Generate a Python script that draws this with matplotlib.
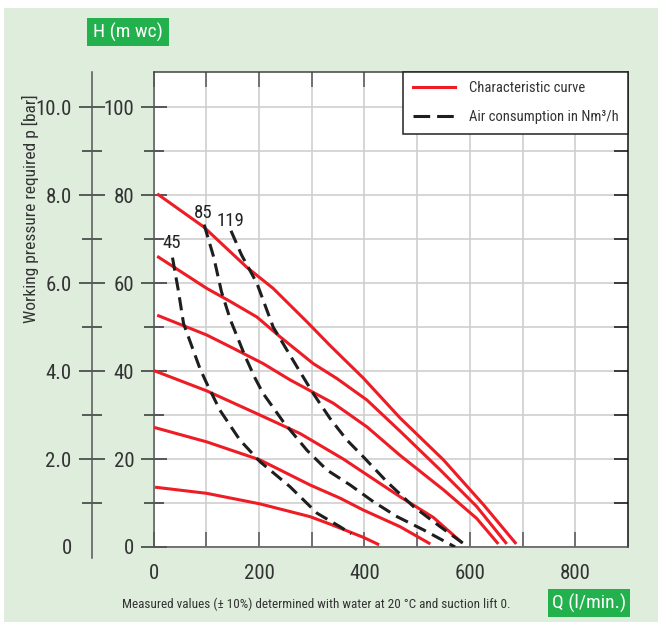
import numpy as np
import matplotlib
matplotlib.use("Agg")
import matplotlib.pyplot as plt
from matplotlib import font_manager
from matplotlib.patches import Rectangle
from matplotlib.lines import Line2D

# pick a narrow sans font if one is installed
font_name, scale = 'Liberation Sans', 0.88
for name in ['Liberation Sans Narrow', 'Roboto Condensed', 'DejaVu Sans Condensed']:
    try:
        font_manager.findfont(name, fallback_to_default=False)
        font_name, scale = name, 1.0
        break
    except Exception:
        pass
plt.rcParams['font.family'] = [font_name, 'DejaVu Sans']
plt.rcParams['lines.scale_dashes'] = False

# characteristic curves (Q in l/min, H in m wc)
curve1_q = [7, 95, 177, 227, 291, 335, 398, 468, 550, 626, 688]
curve1_h = [80.3, 72.8, 63.6, 58.8, 51.2, 45.8, 38.4, 29.3, 19.8, 9.6, 0.7]
curve2_q = [7, 101, 146, 196, 240, 303, 348, 405, 468, 544, 613, 670]
curve2_h = [66.1, 58.8, 55.8, 52.3, 47.8, 41.7, 38.3, 33.4, 26.3, 17.5, 9.2, 0.7]
curve3_q = [7, 101, 146, 208, 259, 341, 405, 468, 550, 613, 654]
curve3_h = [52.7, 48.2, 45.5, 41.7, 38.0, 32.7, 27.3, 20.8, 13.0, 6.5, 0.7]
curve4_q = [1, 101, 202, 278, 360, 468, 531, 585]
curve4_h = [40.1, 35.5, 30.0, 25.8, 20.0, 11.4, 6.7, 1.0]
curve5_q = [1, 101, 202, 297, 354, 398, 468, 525]
curve5_h = [27.2, 23.9, 19.8, 14.1, 11.1, 8.4, 4.6, 0.7]
curve6_q = [3, 101, 202, 297, 335, 398, 428]
curve6_h = [13.6, 12.2, 9.8, 6.9, 5.2, 2.2, 0.5]

# air consumption curves (Nm3/h)
air45_q = [36, 47, 57, 88, 101, 126, 164, 202, 259, 310, 354, 375]
air45_h = [65.8, 58.4, 50.8, 40.6, 37.2, 31.1, 24.3, 19.4, 13.7, 7.7, 4.6, 3.0]
air85_q = [96, 114, 129, 146, 174, 193, 208, 246, 291, 329, 373, 417, 462, 512, 572]
air85_h = [73.3, 66.0, 58.0, 51.6, 43.3, 38.3, 34.9, 28.5, 22.0, 17.5, 14.1, 10.3, 6.9, 3.9, 0.0]
air119_q = [147, 167, 196, 227, 272, 303, 335, 367, 398, 443, 493, 544, 597]
air119_h = [71.9, 66.4, 60.0, 50.0, 41.0, 34.9, 29.2, 24.3, 20.5, 14.8, 9.2, 4.6, 0.0]

air_labels = ["45", "85", "119"]
air_label_q = [34.5, 94.5, 146.5]
air_label_h = [69.2, 76.0, 74.2]

q_ticks = [0, 200, 400, 600, 800]
h_ticks = [0, 20, 40, 60, 80, 100]
bar_ticks = [0, 2, 4, 6, 8, 10]
bar_labels = ["0", "2.0", "4.0", "6.0", "8.0", "10.0"]

RED = '#ee1c25'
GREEN = '#22b14c'
TXT = '#333333'
W, H = 659, 624
fs_tick = 15 * scale

fig = plt.figure(figsize=(W / 100, H / 100), dpi=100)
fig.patch.set_facecolor('white')
fig.add_artist(Rectangle((4 / W, 2 / H), 654 / W, 614 / H, transform=fig.transFigure,
                         facecolor='#deeddc', edgecolor='none', zorder=-10))

ax = fig.add_axes([153.5 / W, 1 - 547 / H, (628 - 153.5) / W, (547 - 72) / H])
ax.set_facecolor('white')
ax.set_xlim(0, 900)
ax.set_ylim(0, 108)

reds = [(curve1_q, curve1_h), (curve2_q, curve2_h), (curve3_q, curve3_h),
        (curve4_q, curve4_h), (curve5_q, curve5_h), (curve6_q, curve6_h)]
for q, h in reds:
    ax.plot(q, h, color=RED, lw=2.2, solid_capstyle='butt', solid_joinstyle='round', zorder=3)

for q, h in [(air45_q, air45_h), (air85_q, air85_h), (air119_q, air119_h)]:
    ax.plot(q, h, color='#1e1e1e', lw=2.2, linestyle=(0, (9.5, 5)), zorder=4)

for lab, q, h in zip(air_labels, air_label_q, air_label_h):
    ax.text(q, h, lab, fontsize=13.5 * scale, color='#222222', ha='center', va='center', zorder=5)

# ticks and grid
ax.set_xticks(q_ticks)
ax.set_xticks([100, 300, 500, 700], minor=True)
ax.set_yticks(h_ticks)
ax.set_yticks([10, 30, 50, 70, 90], minor=True)
ax.grid(True, which='both', color='#cfcfcf', lw=1.2, zorder=0)
ax.set_axisbelow(True)
ax.tick_params(axis='x', which='both', direction='in', length=10.5, width=1.1,
               color='#555555', top=True, labelsize=fs_tick, labelcolor=TXT, pad=12)
ax.tick_params(axis='y', which='major', direction='inout', length=19, width=1.1,
               color='#333333', right=False, labelsize=fs_tick, labelcolor=TXT, pad=4.3)
ax.tick_params(axis='y', which='minor', direction='inout', length=14, width=1.1,
               color='#333333', right=False)
for s in ['left', 'bottom']:
    ax.spines[s].set_color('#555555')
    ax.spines[s].set_linewidth(1.1)
ax.spines['top'].set_color('#444444')
ax.spines['top'].set_linewidth(1.1)
ax.spines['right'].set_color('#111111')
ax.spines['right'].set_linewidth(1.1)

# right side inner ticks
axr = ax.twinx()
axr.set_ylim(0, 108)
axr.set_yticks(np.arange(10, 101, 10))
axr.tick_params(axis='y', direction='in', length=10, width=1.1, color='#111111',
                labelright=False)
for s in axr.spines.values():
    s.set_visible(False)

# pressure axis (bar) on the far left
axb = ax.twinx()
axb.set_ylim(0, 10.8)
for s in ['top', 'right', 'bottom']:
    axb.spines[s].set_visible(False)
axb.spines['left'].set_visible(True)
axb.spines['left'].set_position(('outward', 44.5))
axb.spines['left'].set_bounds(-0.25, 10.8)
axb.spines['left'].set_color('#555555')
axb.spines['left'].set_linewidth(1.1)
axb.yaxis.set_ticks_position('left')
axb.yaxis.set_label_position('left')
axb.set_yticks(bar_ticks)
axb.set_yticklabels(bar_labels)
axb.set_yticks([1, 3, 5, 7, 9], minor=True)
axb.tick_params(axis='y', which='major', direction='inout', length=19.4, width=1.1,
                color='#333333', labelsize=fs_tick, labelcolor=TXT, pad=4.7)
axb.tick_params(axis='y', which='minor', direction='inout', length=14, width=1.1,
                color='#333333')
axb.yaxis.get_major_ticks()[0].tick1line.set_visible(False)

# legend
handles = [Line2D([], [], color=RED, lw=2.2),
           Line2D([], [], color='#1e1e1e', lw=2.2, linestyle=(0, (12, 5)))]
leg = axr.legend(handles, ['Characteristic curve', 'Air consumption in Nm³/h'],
                 loc='upper right', borderaxespad=0, fancybox=False, framealpha=1,
                 edgecolor='#222222', fontsize=10.5 * scale, handlelength=2.9,
                 handletextpad=0.95, labelspacing=1.0, borderpad=0.65)
leg.get_frame().set_linewidth(1.1)
for t in leg.get_texts():
    t.set_color(TXT)

# labels
fig.text(30 / W, 1 - 209 / H, 'Working pressure required p [bar]', rotation=90,
         fontsize=12.5 * scale, color=TXT, ha='center', va='center')
fig.text(316.5 / W, 1 - 604 / H,
         'Measured values (± 10%) determined with water at 20 °C and suction lift 0.',
         fontsize=9.5 * scale, color=TXT, ha='center', va='center')

for (x0, y0, x1, y1, lab) in [(87, 18, 169, 46, 'H (m wc)'), (548, 589, 630, 617, 'Q (l/min.)')]:
    fig.add_artist(Rectangle((x0 / W, 1 - y1 / H), (x1 - x0) / W, (y1 - y0) / H,
                             transform=fig.transFigure, facecolor=GREEN, edgecolor='none'))
    fig.text((x0 + x1) / 2 / W, 1 - (y0 + y1) / 2 / H, lab, fontsize=14 * scale, color='white',
             ha='center', va='center')

fig.savefig('out.png', dpi=100, facecolor=fig.get_facecolor())
